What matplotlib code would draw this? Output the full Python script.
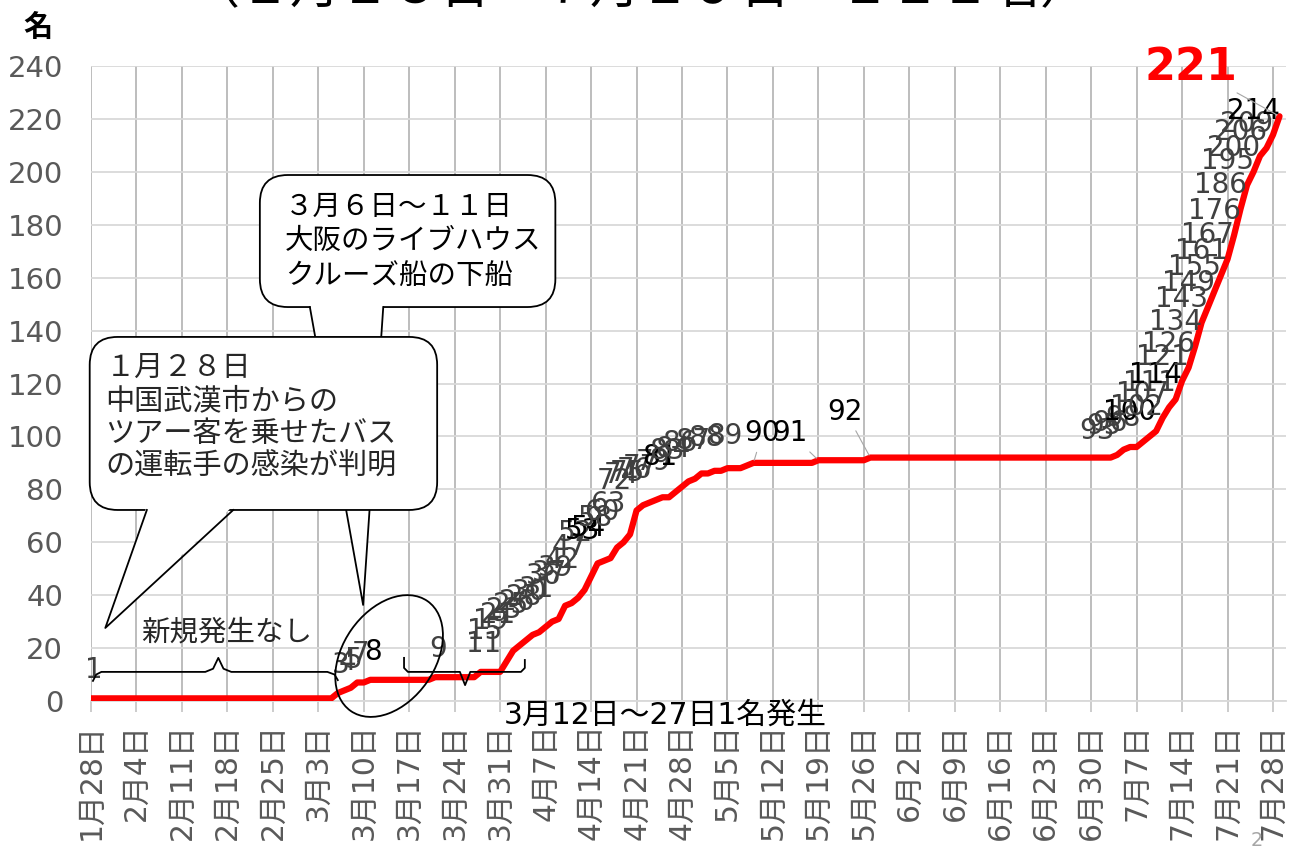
import numpy as np
import matplotlib
matplotlib.use("Agg")
import matplotlib.pyplot as plt
from matplotlib.patches import FancyBboxPatch, Polygon, Ellipse
from matplotlib.transforms import IdentityTransform

plt.rcParams['font.family'] = ['DejaVu Sans', 'Noto Sans CJK JP']
CJK = ['Noto Sans CJK JP', 'DejaVu Sans']

# cumulative cases per day, 1/28 .. 7/29 (one row per week)
cases = [
    1, 1, 1, 1, 1, 1, 1,
    1, 1, 1, 1, 1, 1, 1,
    1, 1, 1, 1, 1, 1, 1,
    1, 1, 1, 1, 1, 1, 1,
    1, 1, 1, 1, 1, 1, 1,
    1, 1, 1, 3, 4, 5, 7,
    7, 8, 8, 8, 8, 8, 8,
    8, 8, 8, 8, 9, 9, 9,
    9, 9, 9, 9, 11, 11, 11,
    11, 15, 19, 21, 23, 25, 26,
    28, 30, 31, 36, 37, 39, 42,
    47, 52, 53, 54, 58, 60, 63,
    72, 74, 75, 76, 77, 77, 79,
    81, 83, 84, 86, 86, 87, 87,
    88, 88, 88, 89, 90, 90, 90,
    90, 90, 90, 90, 90, 90, 90,
    91, 91, 91, 91, 91, 91, 91,
    91, 92, 92, 92, 92, 92, 92,
    92, 92, 92, 92, 92, 92, 92,
    92, 92, 92, 92, 92, 92, 92,
    92, 92, 92, 92, 92, 92, 92,
    92, 92, 92, 92, 92, 92, 92,
    92, 92, 92, 92, 93, 95, 96,
    96, 98, 100, 102, 107, 111, 114,
    121, 126, 134, 143, 149, 155, 161,
    167, 176, 186, 195, 200, 206, 209,
    214, 221,
]

tick_labels = ["1月28日", "2月4日", "2月11日", "2月18日", "2月25日", "3月3日",
               "3月10日", "3月17日", "3月24日", "3月31日", "4月7日", "4月14日",
               "4月21日", "4月28日", "5月5日", "5月12日", "5月19日", "5月26日",
               "6月2日", "6月9日", "6月16日", "6月23日", "6月30日", "7月7日",
               "7月14日", "7月21日", "7月28日"]

dark_labels = [8, 53, 54, 62, 64, 81, 90, 91, 92, 100, 114, 214]
title = "（１月２８日～７月２９日　２２１名）"

x = np.arange(len(cases))

fig = plt.figure(figsize=(13.02, 8.48), dpi=100)
ax = fig.add_axes([91 / 1302, 1 - 701 / 848, (1286 - 91) / 1302, (701 - 66) / 848])
ax.set_xlim(0, 184)
ax.set_ylim(0, 240)

ax.set_yticks(range(0, 241, 20))
ax.set_xticks(range(0, len(cases), 7))
ax.set_xticklabels(tick_labels, rotation=90, va='top', ha='center')
ax.grid(axis='y', color='#D9D9D9', lw=1.3)
ax.grid(axis='x', color='#B8B8B8', lw=1.3)
ax.set_axisbelow(True)
for s in ['top', 'right', 'left']:
    ax.spines[s].set_visible(False)
ax.spines['bottom'].set_color('#D9D9D9')
ax.spines['bottom'].set_linewidth(1.3)
ax.tick_params(axis='x', length=8, width=1.3, color='#C8C8C8', labelsize=21.5,
               labelcolor='#595959', pad=8)
ax.tick_params(axis='y', length=0, labelsize=21, labelcolor='#595959', pad=20)

ax.plot(x, cases, color='#FF0000', lw=4.5, solid_joinstyle='round',
        solid_capstyle='round', zorder=5)

# data labels at each change
change = [0] + [i for i in range(1, len(cases)) if cases[i] != cases[i - 1]]
for i in change:
    v = cases[i]
    if i == len(cases) - 1:
        ax.annotate(str(v), xy=(i, v), xytext=(-89, 49), textcoords='offset pixels',
                    ha='center', va='center', fontsize=32, fontweight='bold',
                    color='#FF0000', family=['Liberation Sans Narrow', 'DejaVu Sans'],
                    arrowprops=dict(arrowstyle='-', color='#A6A6A6', lw=0.8),
                    annotation_clip=False, zorder=7)
        continue
    col = '#000000' if v in dark_labels else '#404040'
    if v == 92:
        off = (-25, 46)
    elif v == 91:
        off = (-28, 27)
    elif v == 90:
        off = (9, 30)
    elif i < 63:
        off = (3, 28)
    elif i < 110:
        off = (-22, 30)
    else:
        off = (-20, 24)
    arrow = dict(arrowstyle='-', color='#A6A6A6', lw=0.8) if 90 <= v <= 92 else None
    ax.annotate(str(v), xy=(i, v), xytext=off, textcoords='offset pixels',
                ha='center', va='center', fontsize=20, color=col,
                arrowprops=arrow, zorder=6)

# callout 2 (live house / cruise ship)
asp = (ax.bbox.width / 184) / (ax.bbox.height / 240)
box2 = FancyBboxPatch((26.0, 148.9), 45.5, 49.9, boxstyle="round,pad=0,rounding_size=4.3",
                      mutation_aspect=asp, fc='white', ec='black', lw=1.3,
                      clip_on=False, zorder=8)
ax.add_patch(box2)
ax.add_patch(Polygon([(33.7, 150.5), (41.9, 36.3), (45.0, 150.5)], closed=True,
                     fc='white', ec='none', clip_on=False, zorder=8))
ax.plot([33.7, 41.9, 45.0], [148.9, 36.3, 148.9], color='black', lw=1.3, zorder=8,
        clip_on=False)
ax.text(29.9, 192.5, "３月６日～１１日\n大阪のライブハウス\nクルーズ船の下船",
        family=CJK, fontsize=20.5, color='black', va='top', ha='left',
        linespacing=1.2, zorder=9)

# callout 1 (bus driver)
box1 = FancyBboxPatch((-0.2, 72.2), 53.5, 65.4, boxstyle="round,pad=0,rounding_size=4.3",
                      mutation_aspect=asp, fc='white', ec='black', lw=1.3,
                      clip_on=False, zorder=10)
ax.add_patch(box1)
ax.add_patch(Polygon([(8.6, 73.8), (2.2, 27.6), (21.9, 73.8)], closed=True,
                     fc='white', ec='none', clip_on=False, zorder=10))
ax.plot([8.6, 2.2, 21.9], [72.2, 27.6, 72.2], color='black', lw=1.3, zorder=10,
        clip_on=False)
ax.text(2.2, 131.5, "１月２８日\n中国武漢市からの\nツアー客を乗せたバス\nの運転手の感染が判明",
        family=CJK, fontsize=21, color='#262626', va='top', ha='left',
        linespacing=1.12, zorder=11)

# ellipse around the March cluster
cx, cy = ax.transData.transform((45.9, 17.0))
fig.patches.append(Ellipse((cx, cy), 134, 92, angle=55, fc='none', ec='black', lw=1.3,
                           transform=IdentityTransform(), zorder=12))

# braces
ax.plot([0.3, 0.8, 1.6, 17.6, 18.8, 19.6, 20.4, 21.6, 36.4, 37.5, 38.0],
        [7.6, 10, 11, 11, 12.2, 16.3, 12.2, 11, 11, 10, 7.9],
        color='black', lw=1.3, zorder=6)
ax.plot([48.2, 48.2, 48.8, 56.8, 57.6, 58.4, 66.2, 66.8, 66.8],
        [16.3, 12.5, 11, 11, 6, 11, 11, 12.5, 15.5], color='black', lw=1.3, zorder=6)
ax.text(20.9, 25.7, "新規発生なし", family=CJK, fontsize=20.5, color='#262626',
        ha='center', va='center', zorder=6)
ax.text(88.4, -5.3, "3月12日～27日1名発生", fontsize=21.5, color='black',
        ha='center', va='center', clip_on=False, zorder=6)

# title (cut at the top) and unit
fig.text(0.4915, 1 - 3 / 848, title, family=CJK, fontsize=36, ha='center',
         va='baseline', color='black')
fig.text(38 / 1302, 1 - 27 / 848, "名", family=CJK, fontsize=21, fontweight='bold',
         ha='center', va='center')
fig.text(1257 / 1302, 1 - 840 / 848, "2", fontsize=14, color='#A6A6A6',
         ha='center', va='center')

fig.savefig("out.png", dpi=100)
